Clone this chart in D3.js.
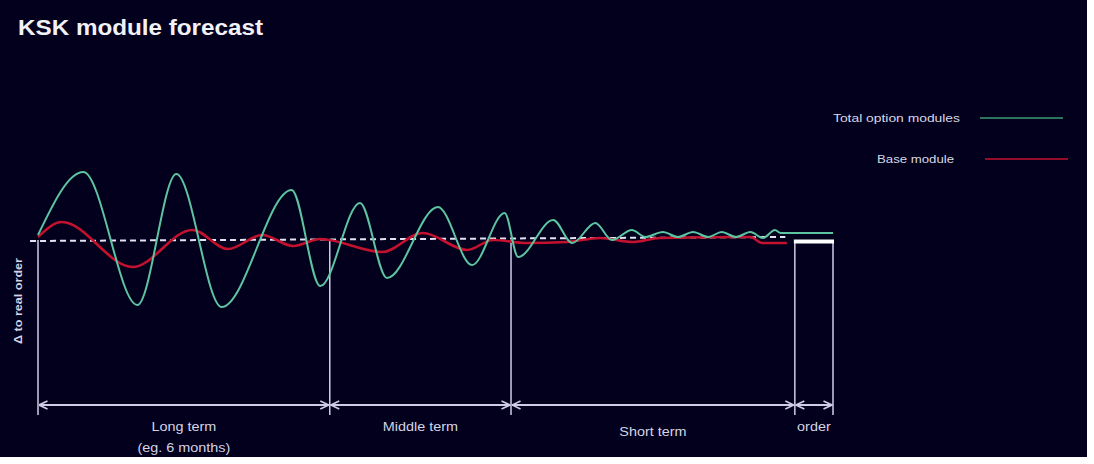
<!DOCTYPE html>
<meta charset="utf-8">
<script src="https://d3js.org/d3.v7.min.js"></script>
<style>
  body { margin: 0; background: #ffffff; }
  text { font-family: "Liberation Sans", Arial, sans-serif; }
</style>
<div id="chart"></div>
<script>
  // values: time 0..100, delta to real order
  var totalOptionT     = [0, 5.7, 12.5, 17.4, 23.1, 31.9, 35.5, 40.5, 43.9, 50.3, 54.6, 58.7, 60.4, 64.8, 67.2, 70.1, 72.2, 74.7, 76.4, 78.6, 80.5, 82.4, 84.3, 86.0, 87.8, 89.6, 91.2, 92.7, 93.4, 100];
  var totalOptionDelta = [2.5, 34, -32.5, 33, -33.5, 25, -23, 18.5, -19, 16.5, -12.5, 13.5, -8.5, 10, -1.5, 8.5, 0, 5, 1.5, 4, 1.5, 4, 1.5, 4, 1.5, 4, 1, 5, 3.5, 3.5];
  var baseModuleT      = [0, 3.0, 11.9, 19.4, 23.9, 28.2, 32.1, 35.5, 43.3, 48.4, 54.0, 57.2, 61.5, 66.5, 70.7, 74.8, 78.2, 89.6, 91.1, 94.2];
  var baseModuleDelta  = [1.5, 9, -13.5, 5, -4.5, 2.5, -3, 0.5, -6, 3.5, -5, 0, -1.5, -1, 1, -1, 1, 1.5, -1.5, -1.5];
  var realOrderT       = [-1, 94];
  var realOrderDelta   = [-0.5, 1.5];
  var phaseBounds      = [0, 36.7, 59.5, 95.2, 100];
  var phaseLabels      = ["Long term", "Middle term", "Short term", "order"];
  var phaseNotes       = ["(eg. 6 months)", "", "", ""];
  var legendLabels     = ["Total option  modules", "Base module"];

  var W = 1094, H = 464;
  var green = "#5cc4a0", red = "#c4122e", pale = "#cfcde6";

  var svg = d3.select("#chart").append("svg")
    .attr("width", W).attr("height", H);

  svg.append("rect").attr("width", 1087).attr("height", 457).attr("fill", "#03001e");

  var x = d3.scaleLinear().domain([0, 100]).range([38, 833]);
  var y = d3.scaleLinear().domain([-100, 100]).range([440, 40]);

  // the source picture is a bit wider than normal type
  function stretch(sel, k) {
    sel.each(function() {
      if (!this.textContent) return;
      var w = this.getComputedTextLength();
      d3.select(this).attr("textLength", w * k).attr("lengthAdjust", "spacingAndGlyphs");
    });
  }

  // title
  svg.append("text")
    .attr("x", 18).attr("y", 35)
    .attr("fill", "#f2f2f6")
    .style("font-size", "22px").style("font-weight", "bold")
    .attr("textLength", 245).attr("lengthAdjust", "spacingAndGlyphs")
    .text("KSK module forecast");

  // arrow heads
  var defs = svg.append("defs");
  defs.append("marker")
    .attr("id", "head")
    .attr("viewBox", "0 0 10 10")
    .attr("refX", 9.5).attr("refY", 5)
    .attr("markerWidth", 10).attr("markerHeight", 10)
    .attr("markerUnits", "userSpaceOnUse")
    .attr("orient", "auto-start-reverse")
    .append("path")
    .attr("d", "M1,1 L9.5,5 L1,9")
    .attr("fill", "none").attr("stroke", pale).attr("stroke-width", 1.6);

  // phase separators
  svg.append("g").selectAll("line")
    .data(phaseBounds).enter().append("line")
    .attr("x1", function(d) { return x(d); })
    .attr("x2", function(d) { return x(d); })
    .attr("y1", y(0)).attr("y2", 415)
    .attr("stroke", pale).attr("stroke-width", 1.5);

  // order box top
  svg.append("line")
    .attr("x1", x(phaseBounds[3]) - 1).attr("x2", x(phaseBounds[4]) + 1)
    .attr("y1", y(-0.8)).attr("y2", y(-0.8))
    .attr("stroke", "#ffffff").attr("stroke-width", 4);

  // double arrows
  var phases = phaseLabels.map(function(l, i) {
    return { label: l, note: phaseNotes[i], a: phaseBounds[i], b: phaseBounds[i + 1] };
  });
  svg.append("g").selectAll("line")
    .data(phases).enter().append("line")
    .attr("x1", function(d) { return x(d.a) + 1; })
    .attr("x2", function(d) { return x(d.b) - 1; })
    .attr("y1", 405).attr("y2", 405)
    .attr("stroke", pale).attr("stroke-width", 2)
    .attr("marker-start", "url(#head)").attr("marker-end", "url(#head)");

  var lab = svg.append("g").selectAll("g")
    .data(phases).enter().append("g");
  lab.append("text")
    .attr("x", function(d) { return (x(d.a) + x(d.b)) / 2; })
    .attr("y", function(d, i) { return i === 2 ? 436 : 431; })
    .attr("text-anchor", "middle")
    .attr("fill", "#d4d4e4")
    .style("font-size", "12px")
    .text(function(d) { return d.label; })
    .call(stretch, 1.2);
  lab.append("text")
    .attr("x", function(d) { return (x(d.a) + x(d.b)) / 2; })
    .attr("y", 452)
    .attr("text-anchor", "middle")
    .attr("fill", "#d4d4e4")
    .style("font-size", "12px")
    .text(function(d) { return d.note; })
    .call(stretch, 1.2);

  // y axis label
  svg.append("text")
    .attr("transform", "translate(22," + 301 + ") rotate(-90)")
    .attr("text-anchor", "middle")
    .attr("fill", "#d4d4e4")
    .style("font-size", "10px").style("font-weight", "bold")
    .attr("textLength", 86).attr("lengthAdjust", "spacingAndGlyphs")
    .text("\u0394 to real order");

  var line = d3.line()
    .x(function(d) { return x(d[0]); })
    .y(function(d) { return y(d[1]); })
    .curve(d3.curveMonotoneX);

  // real order reference (dashed)
  svg.append("path")
    .datum(d3.zip(realOrderT, realOrderDelta))
    .attr("d", d3.line().x(function(d) { return x(d[0]); }).y(function(d) { return y(d[1]); }))
    .attr("fill", "none").attr("stroke", "#e4e2f2")
    .attr("stroke-width", 2).attr("stroke-dasharray", "6,4");

  svg.append("path")
    .datum(d3.zip(baseModuleT, baseModuleDelta))
    .attr("d", line)
    .attr("fill", "none").attr("stroke", red).attr("stroke-width", 2.6);

  svg.append("path")
    .datum(d3.zip(totalOptionT, totalOptionDelta))
    .attr("d", line)
    .attr("fill", "none").attr("stroke", green).attr("stroke-width", 2);

  // legend
  var legend = svg.append("g").selectAll("g")
    .data(legendLabels).enter().append("g");
  legend.append("text")
    .attr("x", function(d, i) { return i === 0 ? 960 : 954; })
    .attr("y", function(d, i) { return i === 0 ? 122 : 163; })
    .attr("text-anchor", "end")
    .attr("fill", "#d8d8e6")
    .style("font-size", "11px")
    .attr("textLength", function(d, i) { return i === 0 ? 127 : 77; })
    .attr("lengthAdjust", "spacingAndGlyphs")
    .text(function(d) { return d; });
  legend.append("line")
    .attr("x1", function(d, i) { return i === 0 ? 980 : 985; })
    .attr("x2", function(d, i) { return i === 0 ? 1063 : 1068; })
    .attr("y1", function(d, i) { return i === 0 ? 118 : 159; })
    .attr("y2", function(d, i) { return i === 0 ? 118 : 159; })
    .attr("stroke", function(d, i) { return i === 0 ? "#3d9a74" : red; })
    .attr("stroke-width", 1.6);
</script>
